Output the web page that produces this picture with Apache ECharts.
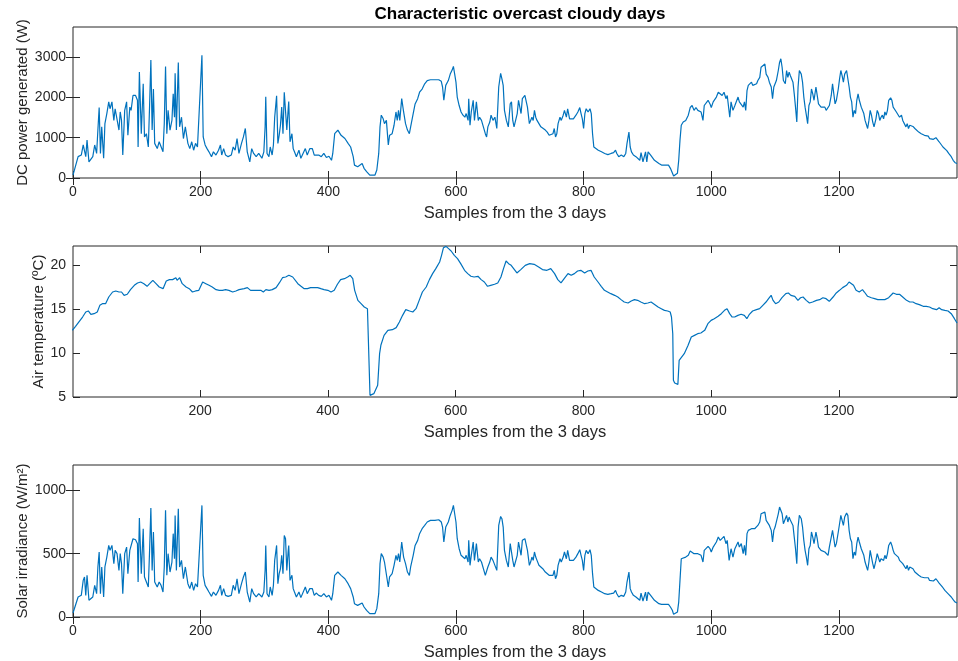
<!DOCTYPE html>
<html>
<head>
<meta charset="utf-8">
<title>Characteristic overcast cloudy days</title>
<script src="https://cdn.jsdelivr.net/npm/echarts@6/dist/echarts.min.js"></script>
<style>
  html, body { margin: 0; padding: 0; background: #fff; }
  #main { width: 958px; height: 661px; }
</style>
</head>
<body>
<div id="main"></div>
<script>
// [sample, value]
var dcPower = [[0,70],[8,530],[13,570],[16,820],[18,860],[20,530],[22,940],[25,400],[28,360],[31,530],[34,820],[37,610],[39,1190],[41,1750],[43,610],[45,1270],[48,490],[50,1350],[53,1600],[56,1890],[58,1720],[61,1890],[63,1930],[64,1430],[66,1720],[69,1680],[72,1190],[74,1640],[76,1430],[78,570],[81,1680],[84,1890],[86,1060],[89,1760],[91,1680],[94,2050],[98,2050],[101,1930],[102,770],[104,2630],[107,1100],[110,2340],[112,1020],[115,1100],[118,770],[120,1800],[122,2930],[124,1190],[126,2210],[128,860],[132,730],[135,900],[138,860],[141,650],[143,1350],[145,2770],[147,1100],[149,1680],[152,1190],[155,1430],[157,2090],[159,1510],[160,2600],[162,1190],[165,2870],[167,1270],[170,1510],[173,980],[176,1270],[180,860],[183,730],[186,900],[189,690],[192,860],[195,770],[198,730],[202,3050],[204,1020],[207,820],[210,730],[213,650],[217,530],[220,650],[224,570],[228,690],[231,820],[233,570],[236,730],[239,570],[243,530],[248,570],[251,770],[254,690],[257,980],[260,610],[264,860],[267,1020],[270,1230],[273,650],[277,400],[280,730],[283,610],[287,530],[291,610],[296,490],[299,650],[301,1270],[302,2020],[304,610],[307,530],[309,770],[312,570],[314,820],[316,1510],[319,2040],[321,860],[323,1060],[325,1310],[327,1760],[329,1100],[331,2130],[333,2170],[335,1190],[337,1680],[338,1900],[340,900],[343,1100],[345,730],[347,650],[350,530],[354,690],[357,490],[360,530],[364,730],[367,570],[371,730],[375,730],[378,570],[381,610],[385,570],[389,530],[393,610],[397,510],[401,540],[405,440],[407,610],[410,1100],[413,1060],[415,1190],[420,1060],[426,980],[431,860],[435,770],[439,530],[441,320],[446,280],[449,320],[453,360],[456,240],[460,160],[465,70],[468,30],[473,70],[476,200],[479,610],[481,1270],[483,1560],[486,1470],[488,1350],[491,1430],[494,820],[496,1060],[500,1100],[503,1310],[506,1640],[508,1430],[510,1680],[512,1430],[515,1970],[518,1640],[521,1350],[524,1190],[527,1100],[529,1270],[533,1600],[536,1840],[540,1970],[543,2130],[547,2210],[551,2340],[555,2420],[560,2440],[567,2440],[573,2440],[577,2400],[579,2260],[581,1930],[584,2300],[588,2420],[591,2580],[594,2680],[596,2770],[598,2580],[600,2380],[602,2010],[605,1800],[608,1640],[611,1560],[614,1510],[616,1600],[619,1430],[620,1970],[622,1310],[624,1640],[627,1930],[629,1430],[632,1890],[635,1430],[637,1510],[640,1430],[643,1430],[646,1100],[648,1020],[650,1270],[653,1390],[655,1560],[658,1430],[661,1510],[664,1230],[667,2260],[670,2600],[672,2460],[674,2300],[676,1680],[679,1430],[682,1270],[685,1840],[687,1890],[689,1430],[691,1270],[694,1270],[696,1600],[698,1930],[700,1930],[702,1600],[704,1970],[706,1970],[708,2050],[710,2090],[712,1760],[715,1350],[717,1430],[719,1510],[721,1430],[723,1680],[725,1510],[727,1430],[730,1350],[733,1270],[736,1270],[740,1190],[743,1140],[746,1060],[749,1020],[752,1100],[754,1230],[756,1020],[758,1100],[760,1350],[763,1510],[765,1430],[768,1560],[770,1680],[773,1510],[775,1720],[778,1470],[781,1430],[784,1470],[788,1560],[791,1640],[794,1750],[796,1600],[798,1470],[800,1230],[802,1600],[804,1720],[807,1640],[810,1720],[812,1600],[814,1100],[816,770],[819,730],[823,690],[828,650],[833,610],[838,580],[843,610],[847,630],[850,690],[852,610],[855,530],[859,570],[863,530],[866,610],[868,860],[871,1140],[873,770],[875,650],[878,570],[882,530],[885,490],[888,440],[890,630],[893,400],[895,400],[897,650],[899,400],[901,650],[905,570],[908,530],[911,440],[914,400],[918,360],[922,320],[927,320],[930,280],[933,320],[936,240],[939,200],[941,50],[944,30],[947,120],[949,440],[951,940],[953,1310],[956,1390],[960,1430],[964,1560],[967,1750],[970,1800],[973,1680],[976,1750],[979,1680],[982,1720],[984,1640],[987,1430],[989,1800],[992,1800],[995,1930],[998,1840],[1000,1750],[1003,1890],[1005,1930],[1008,2010],[1011,2130],[1014,2090],[1017,2050],[1020,2130],[1023,1970],[1025,2050],[1029,1510],[1031,1890],[1034,1680],[1037,1800],[1039,1760],[1042,2010],[1044,1890],[1047,1930],[1050,1760],[1052,1890],[1054,1680],[1056,2170],[1058,2300],[1060,2260],[1063,2380],[1065,2300],[1068,2340],[1071,2340],[1073,2420],[1076,2500],[1078,2750],[1081,2790],[1084,2830],[1086,2580],[1089,2500],[1091,2380],[1094,2260],[1096,1970],[1098,2260],[1100,2340],[1102,2420],[1105,2670],[1107,2870],[1109,2960],[1111,2750],[1113,2420],[1116,2340],[1118,2670],[1120,2500],[1122,2630],[1124,2540],[1126,2580],[1128,2380],[1130,2090],[1132,1760],[1134,1390],[1136,2260],[1138,2670],[1141,2580],[1143,2380],[1145,2010],[1147,1760],[1149,1560],[1151,1350],[1153,1800],[1155,1890],[1157,2210],[1159,2090],[1161,1930],[1164,2260],[1166,2050],[1168,1840],[1170,1800],[1172,1760],[1175,1720],[1178,1760],[1180,1680],[1183,1640],[1185,1800],[1188,2050],[1190,2340],[1192,2090],[1194,1840],[1196,1930],[1199,2210],[1201,2460],[1203,2670],[1205,2540],[1207,2380],[1209,2580],[1212,2670],[1214,2630],[1216,2260],[1218,2010],[1220,1890],[1222,1510],[1224,1680],[1226,1600],[1228,1930],[1230,2090],[1232,1930],[1235,1760],[1237,1720],[1239,1600],[1241,1430],[1243,1470],[1245,1230],[1247,1430],[1249,1680],[1251,1560],[1253,1390],[1255,1270],[1258,1470],[1260,1680],[1262,1600],[1264,1430],[1266,1510],[1268,1560],[1270,1470],[1272,1640],[1274,1560],[1276,1680],[1278,1930],[1281,1990],[1283,1930],[1285,1760],[1287,1720],[1290,1640],[1293,1600],[1295,1510],[1298,1560],[1300,1430],[1302,1470],[1305,1270],[1307,1350],[1309,1230],[1311,1310],[1314,1270],[1316,1280],[1319,1230],[1322,1190],[1325,1140],[1329,1100],[1332,1120],[1334,1060],[1337,1060],[1340,1040],[1342,980],[1345,940],[1348,960],[1352,1000],[1354,980],[1357,900],[1360,860],[1363,770],[1366,730],[1369,680],[1372,610],[1376,530],[1379,440],[1382,380],[1385,360]];

var airTemp = [[0,12.6],[5,13.05],[10,13.54],[16,14.11],[21,14.68],[25,14.8],[29,14.42],[34,14.49],[39,14.68],[43,15.44],[47,15.63],[52,15.63],[57,16.39],[63,16.96],[68,17.08],[73,16.96],[77,16.96],[81,16.58],[86,16.7],[91,17.23],[97,17.72],[102,17.99],[107,18.1],[112,17.91],[117,17.61],[121,17.91],[126,18.29],[131,17.91],[136,17.53],[142,17.34],[147,18.22],[152,18.37],[157,18.37],[162,18.59],[164,18.29],[168,18.59],[172,17.91],[178,17.53],[183,17.34],[188,16.96],[193,17.08],[198,17.15],[204,18.1],[209,17.91],[214,17.72],[219,17.53],[225,17.23],[230,17.15],[235,17.15],[240,17.23],[245,17.15],[251,16.96],[256,17.08],[261,17.23],[269,17.34],[274,17.46],[279,17.15],[285,17.15],[290,17.15],[295,17.15],[299,16.96],[303,17.23],[308,17.15],[313,17.23],[319,17.46],[324,17.99],[329,18.59],[334,18.67],[339,18.86],[345,18.67],[347,18.48],[353,17.91],[358,17.61],[363,17.34],[368,17.34],[373,17.46],[379,17.46],[384,17.46],[389,17.34],[394,17.23],[400,17.15],[405,16.96],[410,17.15],[415,17.84],[420,18.37],[426,18.48],[431,18.67],[435,18.86],[439,18.48],[442,17.15],[447,16.01],[452,15.63],[457,15.25],[462,15.06],[465,14.87],[466,5.19],[469,5.07],[472,5.38],[475,5.57],[478,6.33],[481,9.94],[483,10.89],[488,12.02],[494,12.59],[501,12.67],[507,12.9],[512,13.54],[517,14.3],[522,14.95],[528,14.8],[533,14.68],[538,15.06],[543,16.01],[548,16.96],[554,17.53],[559,18.37],[564,19.05],[569,19.62],[575,20.38],[578,21.14],[581,22.01],[585,22.16],[589,21.9],[593,21.63],[598,21.14],[603,20.76],[608,20.19],[614,19.43],[619,19.05],[624,18.75],[629,18.67],[635,18.75],[640,18.37],[645,18.1],[650,17.61],[655,17.72],[661,17.84],[666,17.99],[671,18.67],[675,19.62],[679,20.49],[683,20.19],[687,20.0],[689,19.81],[696,19.13],[702,19.51],[709,20.0],[716,20.19],[723,20.11],[730,19.81],[736,19.51],[743,19.43],[749,19.62],[755,19.05],[760,18.37],[765,17.99],[770,18.48],[776,19.05],[781,18.86],[786,19.05],[791,19.35],[796,19.43],[802,19.13],[807,19.35],[812,19.43],[817,18.67],[823,18.1],[828,17.61],[833,17.15],[838,16.96],[843,16.77],[849,16.58],[854,16.39],[859,16.09],[864,15.82],[870,15.71],[875,15.94],[880,16.09],[885,16.01],[890,15.82],[896,15.63],[901,15.71],[906,15.82],[911,15.56],[917,15.25],[922,15.06],[927,14.87],[932,14.8],[936,14.68],[938,14.11],[940,12.21],[941,6.9],[943,6.59],[945,6.59],[948,6.44],[950,9.18],[953,9.37],[958,9.94],[964,10.89],[969,11.83],[974,12.02],[979,12.21],[984,12.29],[990,12.59],[995,13.35],[1000,13.73],[1005,13.92],[1011,14.19],[1016,14.49],[1021,14.87],[1025,15.06],[1029,14.5],[1033,14.11],[1037,14.11],[1042,14.3],[1047,14.42],[1052,14.3],[1056,13.92],[1060,14.42],[1065,14.8],[1071,14.95],[1076,15.06],[1081,15.44],[1086,15.82],[1090,16.2],[1094,16.58],[1097,16.01],[1101,15.63],[1106,15.82],[1111,16.31],[1117,16.77],[1121,16.85],[1125,16.58],[1131,16.47],[1136,16.01],[1140,16.31],[1144,16.39],[1149,16.01],[1154,15.71],[1159,15.82],[1165,16.01],[1170,16.09],[1175,16.31],[1180,16.2],[1185,15.9],[1191,16.39],[1196,16.85],[1201,17.15],[1206,17.46],[1212,17.72],[1216,18.1],[1219,18.29],[1223,17.72],[1227,17.15],[1232,16.96],[1237,17.23],[1240,16.96],[1245,16.47],[1251,16.31],[1256,16.2],[1261,16.09],[1266,16.09],[1272,16.09],[1278,16.31],[1285,16.85],[1290,16.7],[1295,16.7],[1300,16.39],[1306,16.01],[1311,15.82],[1316,15.82],[1321,15.63],[1326,15.52],[1332,15.33],[1337,15.33],[1342,15.25],[1347,15.06],[1353,14.95],[1357,15.17],[1361,14.95],[1366,14.87],[1371,14.8],[1376,14.49],[1381,13.92],[1385,13.43]];

var irradiance = [[0,32],[8,158],[13,171],[16,289],[18,316],[20,171],[22,329],[25,132],[28,118],[31,158],[34,250],[37,184],[39,395],[41,513],[43,184],[45,395],[48,158],[50,395],[53,473],[56,565],[58,526],[61,565],[63,552],[64,421],[66,526],[69,500],[72,368],[74,500],[76,421],[78,184],[81,500],[84,552],[86,342],[89,526],[91,513],[94,618],[98,610],[101,579],[102,276],[104,781],[107,342],[110,697],[112,316],[115,329],[118,237],[120,526],[122,860],[124,368],[126,671],[128,276],[132,237],[135,276],[138,250],[141,197],[143,395],[145,842],[147,329],[149,500],[152,355],[155,434],[157,658],[159,460],[160,802],[162,368],[165,855],[167,395],[170,447],[173,302],[176,395],[180,263],[183,224],[186,276],[189,210],[192,263],[195,237],[198,224],[202,881],[204,329],[207,250],[210,224],[213,197],[217,163],[220,197],[224,171],[228,210],[231,250],[233,171],[236,224],[239,171],[243,163],[248,171],[251,250],[254,210],[257,302],[260,184],[264,263],[267,316],[270,355],[273,197],[277,118],[280,224],[283,184],[287,158],[291,184],[296,158],[299,197],[301,368],[302,565],[304,184],[307,158],[309,237],[312,171],[314,250],[316,447],[319,565],[321,263],[323,342],[325,381],[327,487],[329,342],[331,644],[333,618],[335,368],[337,513],[338,565],[340,289],[343,329],[345,224],[347,197],[350,158],[354,197],[357,153],[360,158],[364,237],[367,184],[371,224],[375,224],[378,171],[381,189],[385,171],[389,163],[393,184],[397,158],[401,171],[405,132],[407,184],[410,329],[413,329],[415,355],[420,329],[426,302],[431,263],[435,224],[439,158],[441,105],[446,92],[449,105],[453,110],[456,79],[460,53],[465,26],[468,13],[473,26],[476,66],[479,184],[481,421],[483,500],[486,473],[488,434],[491,447],[494,237],[496,316],[500,342],[503,408],[506,487],[508,447],[510,500],[512,434],[515,592],[518,473],[521,421],[524,355],[527,329],[529,395],[533,487],[536,565],[540,605],[543,658],[547,697],[551,723],[555,750],[560,763],[567,763],[573,768],[577,750],[579,710],[581,592],[584,710],[588,750],[591,802],[594,842],[596,881],[598,815],[600,750],[602,618],[605,539],[608,487],[611,473],[614,460],[616,487],[619,434],[620,605],[622,408],[624,487],[627,592],[629,447],[632,579],[635,434],[637,460],[640,434],[643,434],[646,329],[648,316],[650,395],[653,434],[655,473],[658,447],[661,460],[664,368],[667,723],[670,794],[672,776],[674,710],[676,526],[679,447],[682,395],[685,579],[687,579],[689,447],[691,395],[694,395],[696,487],[698,592],[700,605],[702,487],[704,605],[706,610],[708,618],[710,618],[712,526],[715,408],[717,434],[719,473],[721,447],[723,513],[725,473],[727,447],[730,408],[733,395],[736,381],[740,355],[743,342],[746,329],[749,316],[752,329],[754,368],[756,302],[758,329],[760,408],[763,460],[765,434],[768,473],[770,513],[773,460],[775,526],[778,447],[781,434],[784,447],[788,473],[791,500],[794,531],[796,487],[798,447],[800,368],[802,487],[804,526],[807,500],[810,531],[812,487],[814,342],[816,237],[819,224],[823,210],[828,197],[833,184],[838,179],[843,184],[847,189],[850,210],[852,184],[855,158],[859,171],[863,163],[866,197],[868,276],[871,355],[873,224],[875,197],[878,171],[882,158],[885,145],[888,132],[890,189],[893,126],[895,126],[897,197],[899,126],[901,197],[905,171],[908,158],[911,132],[914,118],[918,105],[922,100],[927,100],[930,92],[933,100],[936,79],[939,53],[941,21],[944,13],[947,39],[949,118],[951,289],[953,460],[956,468],[960,473],[964,487],[967,521],[970,531],[973,500],[976,513],[979,500],[982,505],[984,487],[987,434],[989,526],[992,539],[995,558],[998,539],[1000,513],[1003,552],[1005,565],[1008,592],[1011,631],[1014,605],[1017,610],[1020,636],[1023,579],[1025,605],[1028,447],[1031,539],[1034,473],[1037,539],[1039,526],[1042,592],[1044,552],[1047,579],[1050,500],[1052,565],[1054,487],[1056,658],[1058,684],[1060,684],[1063,697],[1065,684],[1068,697],[1071,697],[1073,723],[1076,750],[1078,815],[1081,828],[1084,828],[1086,763],[1089,750],[1091,723],[1094,684],[1096,592],[1098,684],[1100,710],[1102,723],[1105,815],[1107,868],[1109,881],[1111,815],[1113,736],[1116,723],[1118,802],[1120,750],[1122,789],[1124,763],[1126,776],[1128,723],[1130,631],[1132,539],[1134,421],[1136,710],[1138,802],[1141,776],[1143,710],[1145,605],[1147,526],[1149,473],[1151,408],[1153,539],[1155,565],[1157,671],[1159,631],[1161,579],[1164,671],[1166,618],[1168,552],[1170,539],[1172,526],[1175,526],[1178,513],[1180,500],[1183,487],[1185,552],[1188,631],[1190,684],[1192,618],[1194,552],[1196,579],[1199,671],[1201,736],[1203,802],[1205,763],[1207,723],[1209,789],[1212,820],[1214,802],[1216,684],[1218,618],[1220,592],[1222,460],[1224,513],[1226,487],[1228,579],[1230,631],[1232,592],[1235,539],[1237,513],[1239,487],[1241,434],[1243,447],[1245,368],[1247,434],[1249,526],[1251,473],[1253,421],[1255,381],[1258,447],[1260,500],[1262,487],[1264,434],[1266,460],[1268,473],[1270,447],[1272,487],[1274,460],[1276,500],[1278,565],[1281,592],[1283,565],[1285,526],[1287,500],[1290,487],[1293,473],[1295,447],[1298,460],[1300,421],[1302,434],[1305,381],[1307,408],[1309,368],[1311,395],[1314,381],[1316,381],[1319,355],[1322,342],[1325,329],[1329,316],[1332,321],[1334,310],[1337,316],[1340,310],[1342,289],[1345,276],[1348,284],[1352,302],[1354,289],[1357,268],[1360,250],[1363,231],[1366,210],[1369,197],[1372,179],[1376,158],[1379,137],[1382,118],[1385,110]];

var sampleTicks = [0, 200, 400, 600, 800, 1000, 1200];
var sampleTicksMid = [200, 400, 600, 800, 1000, 1200];
var powerTicks = [0, 1000, 2000, 3000];
var tempTicks = [5, 10, 15, 20];
var irrTicks = [0, 500, 1000];

var font = 'Liberation Sans, Arial, Helvetica, sans-serif';
var ink = '#262626';

var panels = [
    {top: 27, height: 151, xMin: 0, xTicks: sampleTicks, yMin: 0, yMax: 3750, yTicks: powerTicks, yName: 'DC power generated (W)', nameGap: 43, data: dcPower},
    {top: 246, height: 151, xMin: 1, xTicks: sampleTicksMid, yMin: 5, yMax: 22.2, yTicks: tempTicks, yName: 'Air temperature (ºC)', nameGap: 27, data: airTemp},
    {top: 465, height: 152, xMin: 0, xTicks: sampleTicks, yMin: 0, yMax: 1200, yTicks: irrTicks, yName: 'Solar irradiance (W/m²)', nameGap: 43, data: irradiance}
];

function plain(v) { return String(v); }

var grid = [], xAxis = [], yAxis = [], series = [];
panels.forEach(function (p, i) {
    grid.push({left: 73, right: 1, top: p.top, height: p.height, show: true,
        outerBoundsMode: 'none', containLabel: false,
        borderColor: ink, borderWidth: 1, backgroundColor: '#fff'});
    // bottom axis with labels, top axis only carries the inner ticks
    xAxis.push({
        type: 'value', gridIndex: i, min: p.xMin, max: 1385, position: 'bottom',
        name: 'Samples from the 3 days', nameLocation: 'middle', nameGap: 27, nameMoveOverlap: false,
        nameTextStyle: {fontFamily: font, fontSize: 16.5, color: ink},
        axisLine: {show: false},
        axisTick: {inside: true, length: 7, lineStyle: {color: ink}, customValues: p.xTicks},
        axisLabel: {fontFamily: font, fontSize: 14, color: ink, margin: 7, formatter: plain, customValues: p.xTicks},
        splitLine: {show: false}
    });
    xAxis.push({
        type: 'value', gridIndex: i, min: p.xMin, max: 1385, position: 'top',
        axisLine: {show: false},
        axisTick: {inside: true, length: 7, lineStyle: {color: ink}, customValues: p.xTicks},
        axisLabel: {show: false}, splitLine: {show: false}
    });
    yAxis.push({
        type: 'value', gridIndex: i, min: p.yMin, max: p.yMax, position: 'left',
        name: p.yName, nameLocation: 'middle', nameGap: p.nameGap, nameRotate: 90, nameMoveOverlap: false,
        nameTextStyle: {fontFamily: font, fontSize: 15, color: ink},
        axisLine: {show: false},
        axisTick: {inside: true, length: 7, lineStyle: {color: ink}, customValues: p.yTicks},
        axisLabel: {fontFamily: font, fontSize: 14, color: ink, margin: 7, formatter: plain, customValues: p.yTicks},
        splitLine: {show: false}
    });
    yAxis.push({
        type: 'value', gridIndex: i, min: p.yMin, max: p.yMax, position: 'right',
        axisLine: {show: false},
        axisTick: {inside: true, length: 7, lineStyle: {color: ink}, customValues: p.yTicks},
        axisLabel: {show: false}, splitLine: {show: false}
    });
    series.push({
        type: 'line', xAxisIndex: i * 2, yAxisIndex: i * 2, data: p.data,
        showSymbol: false, silent: true,
        lineStyle: {color: '#0072BD', width: 1.2}
    });
});

var myChart = echarts.init(document.getElementById('main'), null, {renderer: 'canvas'});
var option = {
    animation: false,
    backgroundColor: '#fff',
    title: {
        text: 'Characteristic overcast cloudy days',
        left: 515, top: 1, textAlign: 'center',
        textStyle: {fontFamily: font, fontSize: 17, fontWeight: 'bold', color: '#000'}
    },
    grid: grid,
    xAxis: xAxis,
    yAxis: yAxis,
    series: series
};
option && myChart.setOption(option);
</script>
</body>
</html>
